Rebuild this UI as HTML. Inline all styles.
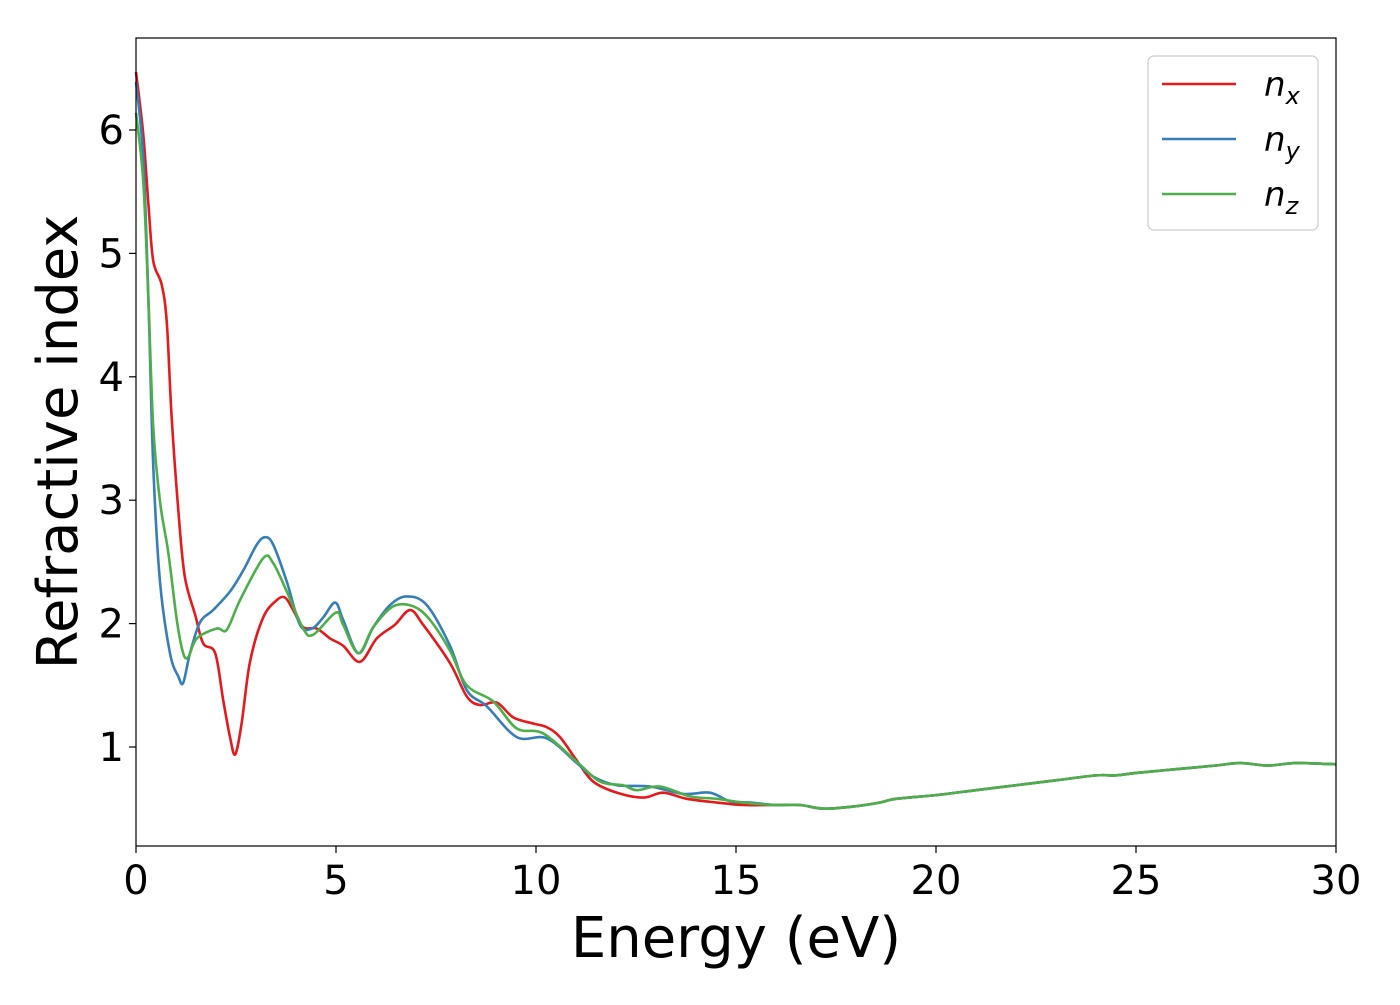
<!DOCTYPE html>
<html><head><meta charset="utf-8"><style>
html,body{margin:0;padding:0;background:#fff;}
svg text{font-family:"DejaVu Sans","Liberation Sans",sans-serif;}
</style></head><body>
<svg id="chart" width="1400" height="1000" xmlns="http://www.w3.org/2000/svg">
<rect x="0" y="0" width="1400" height="1000" fill="#fff"/>
<g id="plot"></g>
<rect x="136" y="38" width="1200" height="808" fill="none" stroke="#000" stroke-width="1.2"/>
<g id="ticks"></g>
<text x="736" y="957" font-size="56" text-anchor="middle">Energy (eV)</text>
<text transform="translate(77,442) rotate(-90)" font-size="56" text-anchor="middle">Refractive index</text>
<g>
<rect x="1148" y="56" width="170" height="174" rx="6" fill="#fff" stroke="#ccc" stroke-width="1.2"/>
<line x1="1162" y1="84" x2="1236" y2="84" stroke="#e41a1c" stroke-width="2.5"/>
<text x="1264" y="96" font-size="34" font-style="italic">n<tspan font-size="24" dy="8">x</tspan></text>
<line x1="1162" y1="139" x2="1236" y2="139" stroke="#377eb8" stroke-width="2.5"/>
<text x="1264" y="151" font-size="34" font-style="italic">n<tspan font-size="24" dy="8">y</tspan></text>
<line x1="1162" y1="194" x2="1236" y2="194" stroke="#4daf4a" stroke-width="2.5"/>
<text x="1264" y="206" font-size="34" font-style="italic">n<tspan font-size="24" dy="8">z</tspan></text>
</g>
</svg>
<script>
const xTicks = [0,5,10,15,20,25,30];
const yTicks = [1,2,3,4,5,6];
const tail = [[16,0.53],[16.6,0.53],[17.2,0.50],[18,0.52],[18.6,0.55],[19,0.58],[20,0.61],[21,0.65],[22,0.69],[23,0.73],[24,0.77],[24.5,0.77],[25,0.79],[26,0.82],[27,0.85],[27.6,0.87],[28.3,0.85],[29,0.87],[30,0.86]];
const nxData = [[0,6.47],[0.18,5.97],[0.31,5.4],[0.43,4.94],[0.64,4.75],[0.77,4.44],[0.89,3.68],[1.06,2.91],[1.22,2.38],[1.48,2.07],[1.68,1.84],[1.98,1.76],[2.18,1.38],[2.35,1.08],[2.48,0.94],[2.64,1.19],[2.85,1.69],[3.18,2.05],[3.52,2.19],[3.73,2.21],[3.93,2.11],[4.18,1.97],[4.52,1.96],[4.85,1.88],[5.18,1.82],[5.6,1.69],[6.02,1.88],[6.47,1.99],[6.85,2.11],[7.18,1.99],[7.85,1.68],[8.27,1.41],[8.6,1.34],[9.02,1.36],[9.43,1.24],[9.93,1.19],[10.27,1.16],[10.6,1.08],[11.02,0.89],[11.43,0.72],[12.02,0.63],[12.68,0.59],[13.18,0.63],[13.77,0.58],[14.52,0.55],[15.18,0.53]].concat(tail);
const nyData = [[0,6.39],[0.18,5.78],[0.31,4.63],[0.43,3.29],[0.6,2.34],[0.85,1.76],[1.06,1.57],[1.18,1.52],[1.35,1.76],[1.6,2.01],[1.93,2.11],[2.35,2.26],[2.68,2.43],[3.02,2.64],[3.23,2.7],[3.43,2.64],[3.77,2.34],[4.1,1.99],[4.4,1.96],[4.68,2.05],[4.98,2.17],[5.18,2.03],[5.56,1.76],[5.93,1.97],[6.35,2.15],[6.77,2.22],[7.27,2.15],[7.85,1.82],[8.27,1.46],[8.77,1.33],[9.52,1.08],[10.27,1.07],[11.02,0.87],[11.43,0.76],[12.02,0.69],[12.85,0.68],[13.68,0.62],[14.35,0.63],[14.85,0.56],[15.35,0.55]].concat(tail);
const nzData = [[0,6.14],[0.18,5.59],[0.31,4.63],[0.43,3.6],[0.6,2.99],[0.81,2.57],[1.02,2.03],[1.18,1.76],[1.31,1.73],[1.52,1.88],[2.02,1.96],[2.27,1.95],[2.6,2.19],[3.18,2.53],[3.43,2.49],[3.77,2.26],[4.18,1.96],[4.43,1.91],[5.0,2.09],[5.18,1.99],[5.56,1.76],[5.93,1.97],[6.43,2.14],[6.93,2.14],[7.35,2.03],[7.85,1.78],[8.27,1.5],[8.93,1.37],[9.52,1.15],[10.18,1.11],[11.02,0.88],[11.6,0.72],[12.18,0.69],[12.52,0.65],[13.1,0.68],[13.85,0.6],[14.52,0.58],[15.18,0.55]].concat(tail);

const X0=136,X1=1336,XMIN=0,XMAX=30;
const YV1=747,YV6=130;
function sx(v){return X0+(v-XMIN)/(XMAX-XMIN)*(X1-X0);}
function sy(v){return YV1-(v-1)*(YV1-YV6)/5;}
const NS='http://www.w3.org/2000/svg';
const ticks=document.getElementById('ticks');
xTicks.forEach(t=>{
  const l=document.createElementNS(NS,'line');
  l.setAttribute('x1',sx(t));l.setAttribute('x2',sx(t));l.setAttribute('y1',846);l.setAttribute('y2',853);l.setAttribute('stroke','#000');l.setAttribute('stroke-width','1.2');
  
  
  ticks.appendChild(l);
  const tx=document.createElementNS(NS,'text');
  tx.setAttribute('x',sx(t));tx.setAttribute('y',894);tx.setAttribute('font-size','40');tx.setAttribute('text-anchor','middle');
  tx.textContent=t;
  
  
  ticks.appendChild(tx);
});
yTicks.forEach(t=>{
  const l=document.createElementNS(NS,'line');
  l.setAttribute('x1',129);l.setAttribute('x2',136);l.setAttribute('y1',sy(t));l.setAttribute('y2',sy(t));l.setAttribute('stroke','#000');l.setAttribute('stroke-width','1.2');
  
  
  ticks.appendChild(l);
  const tx=document.createElementNS(NS,'text');
  tx.setAttribute('x',124);tx.setAttribute('y',sy(t)+14);tx.setAttribute('font-size','40');tx.setAttribute('text-anchor','end');
  tx.textContent=t;
  
  
  ticks.appendChild(tx);
});
function pathFor(data){
  const p=data.map(d=>[sx(d[0]),sy(d[1])]);
  let s='M'+p[0][0]+','+p[0][1];
  for(let i=0;i<p.length-1;i++){
    const p0=p[Math.max(0,i-1)],p1=p[i],p2=p[i+1],p3=p[Math.min(p.length-1,i+2)];
    const c1=[p1[0]+(p2[0]-p0[0])/6,p1[1]+(p2[1]-p0[1])/6];
    const c2=[p2[0]-(p3[0]-p1[0])/6,p2[1]-(p3[1]-p1[1])/6];
    s+=' C'+c1[0]+','+c1[1]+' '+c2[0]+','+c2[1]+' '+p2[0]+','+p2[1];
  }
  return s;
}
const plot=document.getElementById('plot');
[[nxData,'#e41a1c','series-nx'],[nyData,'#377eb8','series-ny'],[nzData,'#4daf4a','series-nz']].forEach(s=>{
  const pa=document.createElementNS(NS,'path');
  pa.setAttribute('d',pathFor(s[0]));pa.setAttribute('fill','none');pa.setAttribute('stroke',s[1]);pa.setAttribute('stroke-width','2.6');
  
  
  plot.appendChild(pa);
});
</script>
</body></html>
